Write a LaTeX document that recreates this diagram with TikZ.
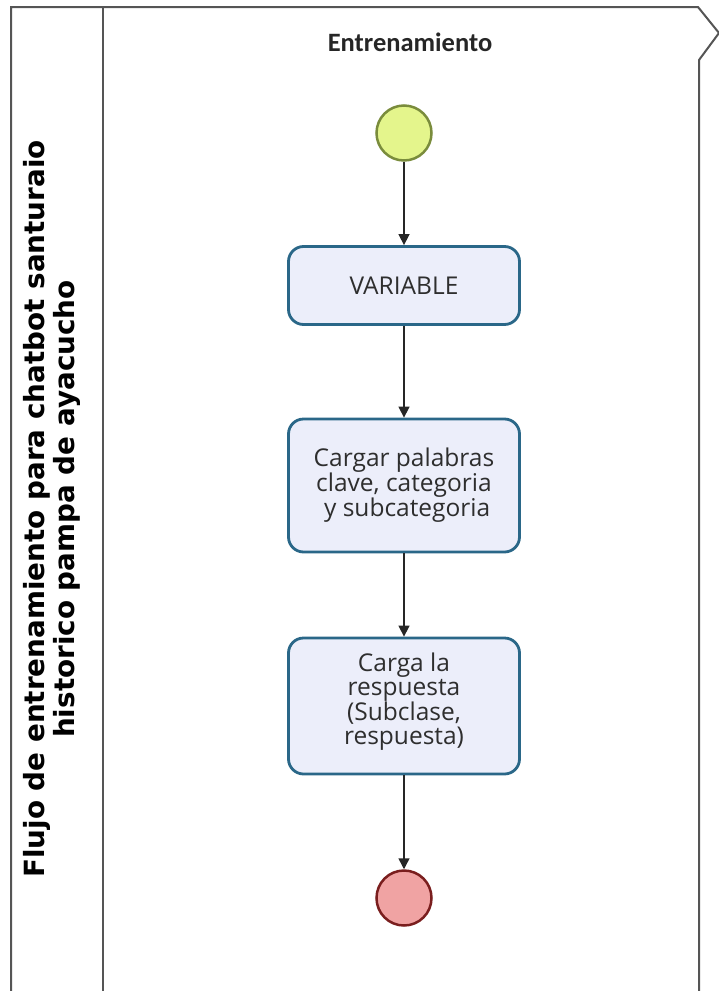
\documentclass[tikz,border=0pt]{standalone}
\usepackage{fontspec}
\setmainfont{Open Sans}
\newfontfamily\titlefont{Carlito}
\newfontfamily\poolfont{DejaVu Sans}
\usetikzlibrary{arrows.meta}

\definecolor{framegray}{HTML}{555555}
\definecolor{boxedge}{HTML}{2A6788}
\definecolor{boxfill}{HTML}{ECEEFA}
\definecolor{startfill}{HTML}{E4F58C}
\definecolor{startedge}{HTML}{7A8C3C}
\definecolor{endfill}{HTML}{F0A3A3}
\definecolor{endedge}{HTML}{7A1E1E}
\definecolor{textgray}{HTML}{2E2E2E}

\begin{document}
\begin{tikzpicture}[x=1pt,y=-1pt,
  task/.style={draw=boxedge, line width=2.8pt, fill=boxfill, rounded corners=15pt,
    minimum width=231pt, inner sep=0pt, align=center, text=textgray,
    font=\fontsize{24.5}{25}\selectfont},
  event/.style={circle, minimum size=55pt, inner sep=0pt},
  flow/.style={-{Triangle[length=11pt,width=11pt]}, line width=1.5pt, draw=black!85},
  frameline/.style={draw=framegray, line width=2pt}]

\useasboundingbox (0,0) rectangle (718,991);

% pool and lane outline
\draw[frameline] (11,991) -- (11,7) -- (698,7) -- (719,33) -- (699,60) -- (699,991);
\draw[frameline] (103,7) -- (103,991);

% pool label
\node[rotate=90, align=center, font=\poolfont\bfseries\fontsize{27.8}{29.5}\selectfont] (pool) at (52,509)
  {Flujo de entrenamiento para chatbot santuraio\\historico pampa de ayacucho};

% lane title
\node[font=\titlefont\bfseries\fontsize{26.5}{30}\selectfont, text=black!85] (lane) at (410,42) {Entrenamiento};

% events and tasks
\node[event, draw=startedge, line width=2.5pt, fill=startfill] (start) at (404,133) {};
\node[task, minimum height=78pt] (var) at (404,285.5) {VARIABLE};
\node[task, minimum height=133pt] (load) at (404,485.5) {Cargar palabras\\clave, categoria\\\ y subcategoria};
\node[task, minimum height=136pt, font=\fontsize{24.5}{23.5}\selectfont] (resp) at (404,706)
  {Carga la\\respuesta\\(Subclase,\\respuesta)\\[-9pt]\mbox{}};
\node[event, draw=endedge, line width=2.5pt, fill=endfill] (end) at (404,898) {};

% sequence flows
\draw[flow] (start) -- (var);
\draw[flow] (var) -- (load);
\draw[flow] (load) -- (resp);
\draw[flow] (resp) -- (end);
\end{tikzpicture}
\end{document}
